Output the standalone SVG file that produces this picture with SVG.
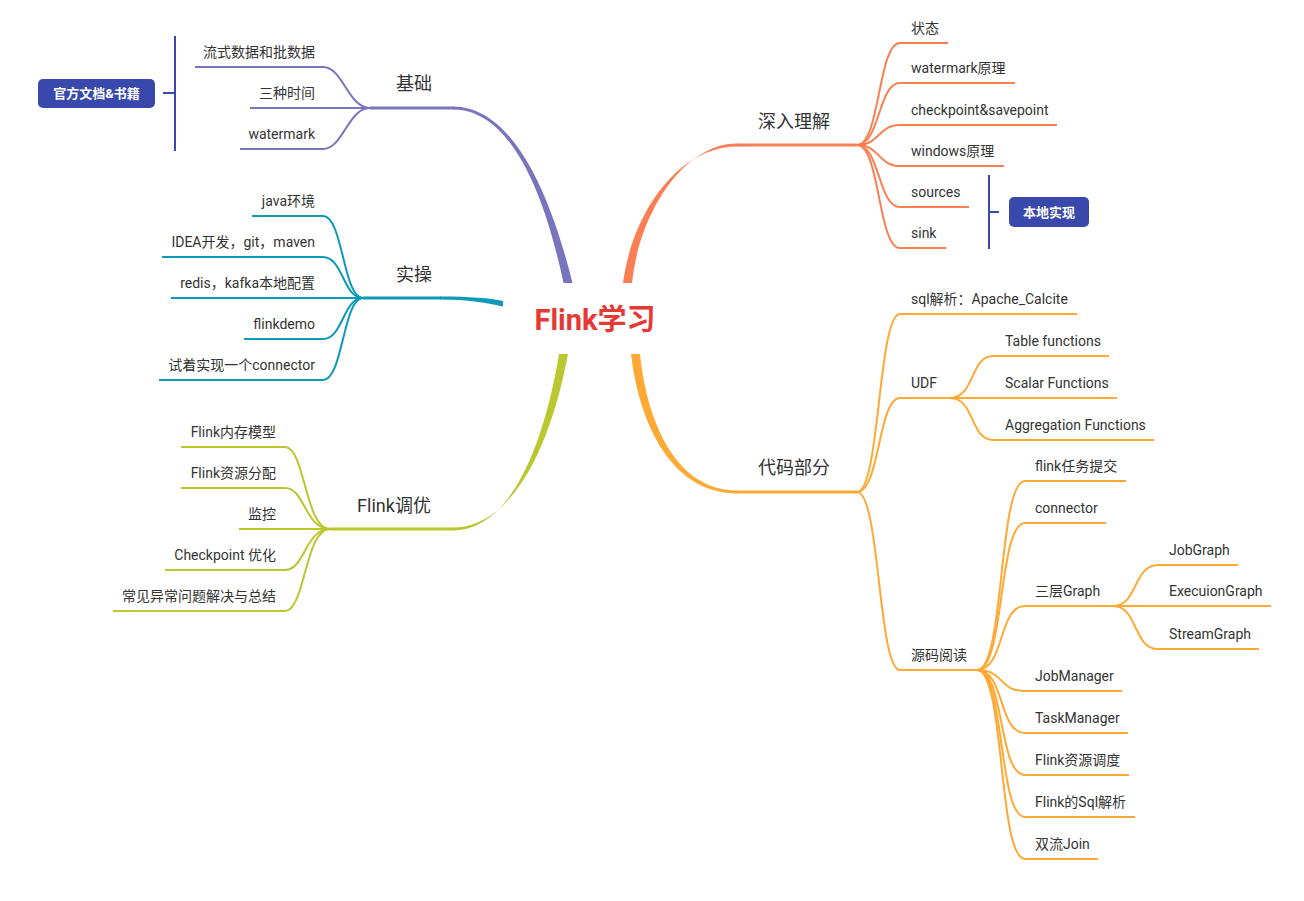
<svg xmlns="http://www.w3.org/2000/svg" width="1304" height="901" viewBox="0 0 1304 901">
<style>
text{font-family:Roboto,"Noto Sans CJK SC",sans-serif;fill:#333}
.c{font-size:14px}
.m{font-size:18px}
.r{text-anchor:end}
.mid{text-anchor:middle}
.ln{fill:none;stroke-width:2}
.mh{fill:none;stroke-width:3}
.pu{stroke:#7874bd}
.te{stroke:#0e99b9}
.yg{stroke:#bac72e}
.or{stroke:#fa7f53}
.am{stroke:#ffa935}
.tag{fill:#3949ab}
.tagt{font-size:13px;font-weight:bold;fill:#fff;text-anchor:middle}
.br{fill:none;stroke:#3949ab;stroke-width:2}
</style>
<rect width="1304" height="901" fill="#fff"/>
<g id="connectors">
  <!-- main tapered branches -->
  <path d="M453,106.5 C515,106.5 552,200 572.5,283 L563.5,283 C546,200 513,109.5 453,109.5 Z" fill="#7874bd"/>
  <path d="M737,143.5 C685,143.5 640,210 632,283 L623,283 C633,210 680,146.5 737,146.5 Z" fill="#fa7f53"/>
  <path d="M453,527.5 C515,527.5 552,440 568,354 L559,354 C545,440 512,530.5 453,530.5 Z" fill="#bac72e"/>
  <path d="M737,490.5 C680,490.5 648,430 640,354 L631,354 C640,430 675,493.5 737,493.5 Z" fill="#ffa935"/>
  <path d="M440,296.5 C470,296.5 490,298 503,301 L503,306.5 C488,303 468,299.5 440,299.5 Z" fill="#0e99b9"/>
  <!-- main horizontals -->
  <path class="mh pu" d="M370,108 L454,108"/>
  <path class="mh te" d="M363,298 L441,298"/>
  <path class="mh yg" d="M330,529 L454,529"/>
  <path class="mh or" d="M736,145 L857,145"/>
  <path class="mh am" d="M736,492 L857,492"/>
  <!-- 基础 children -->
  <path class="ln pu" d="M195,67 L323,67 C343,67 348,108 370,108"/>
  <path class="ln pu" d="M250,108 L370,108"/>
  <path class="ln pu" d="M240,149 L323,149 C343,149 348,108 370,108"/>
  <!-- 实操 children -->
  <path class="ln te" d="M252,216 L323,216 C343,216 343,298 363,298"/>
  <path class="ln te" d="M162,257 L323,257 C343,257 343,298 363,298"/>
  <path class="ln te" d="M171,298 L363,298"/>
  <path class="ln te" d="M244,339 L323,339 C343,339 343,298 363,298"/>
  <path class="ln te" d="M159,380 L323,380 C343,380 343,298 363,298"/>
  <!-- 调优 children -->
  <path class="ln yg" d="M181,447 L285,447 C305,447 305,529 330,529"/>
  <path class="ln yg" d="M181,488 L285,488 C305,488 305,529 330,529"/>
  <path class="ln yg" d="M239,529 L330,529"/>
  <path class="ln yg" d="M165,570 L285,570 C305,570 305,529 330,529"/>
  <path class="ln yg" d="M113,611 L285,611 C305,611 305,529 330,529"/>
  <!-- 深入理解 children -->
  <path class="ln or" d="M857,145 C880,145 878,43 900,43 L948,43"/>
  <path class="ln or" d="M857,145 C880,145 878,83 900,83 L1015,83"/>
  <path class="ln or" d="M857,145 C880,145 878,125 900,125 L1057,125"/>
  <path class="ln or" d="M857,145 C880,145 878,166 900,166 L1004,166"/>
  <path class="ln or" d="M857,145 C880,145 878,207 900,207 L969,207"/>
  <path class="ln or" d="M857,145 C880,145 878,248 900,248 L946,248"/>
  <!-- 代码部分 children -->
  <path class="ln am" d="M857,492 C880,492 878,314 900,314 L1077,314"/>
  <path class="ln am" d="M857,492 C880,492 878,398 900,398 L950,398"/>
  <path class="ln am" d="M857,492 C880,492 878,670 900,670 L977,670"/>
  <!-- UDF children -->
  <path class="ln am" d="M950,398 C975,398 970,356 993,356 L1109,356"/>
  <path class="ln am" d="M950,398 L1117,398"/>
  <path class="ln am" d="M950,398 C975,398 970,440 993,440 L1154,440"/>
  <!-- 源码阅读 children -->
  <path class="ln am" d="M977,670 C1005,670 998,481 1025,481 L1126,481"/>
  <path class="ln am" d="M977,670 C1005,670 998,523 1025,523 L1106,523"/>
  <path class="ln am" d="M977,670 C1005,670 998,606 1025,606 L1113,606"/>
  <path class="ln am" d="M977,670 C1005,670 998,691 1025,691 L1122,691"/>
  <path class="ln am" d="M977,670 C1005,670 998,733 1025,733 L1128,733"/>
  <path class="ln am" d="M977,670 C1005,670 998,775 1025,775 L1129,775"/>
  <path class="ln am" d="M977,670 C1005,670 998,817 1025,817 L1135,817"/>
  <path class="ln am" d="M977,670 C1005,670 998,859 1025,859 L1098,859"/>
  <!-- 三层Graph children -->
  <path class="ln am" d="M1113,606 C1138,606 1133,565 1158,565 L1238,565"/>
  <path class="ln am" d="M1113,606 L1271,606"/>
  <path class="ln am" d="M1113,606 C1138,606 1133,649 1158,649 L1259,649"/>
  <!-- brackets -->
  <path class="br" d="M175,36 L175,151 M163,93 L175,93"/>
  <path class="br" d="M989,175 L989,249 M989,212 L999,212"/>
</g>
<g id="root"><text x="595" y="330" font-size="29" font-weight="bold" text-anchor="middle" style="fill:#e53935">Flink学习</text></g>
<g id="jichu"><text class="m mid" x="414" y="90">基础</text></g>
<g id="jichu-1"><text class="c r" x="315" y="57">流式数据和批数据</text></g>
<g id="jichu-2"><text class="c r" x="315" y="98">三种时间</text></g>
<g id="jichu-3"><text class="c r" x="315" y="139">watermark</text></g>
<g id="guanfang"><rect class="tag" x="38" y="79" width="117" height="29" rx="5"/><text class="tagt" x="96.5" y="98">官方文档&amp;书籍</text></g>
<g id="shicao"><text class="m mid" x="414" y="281">实操</text></g>
<g id="shicao-1"><text class="c r" x="315" y="206">java环境</text></g>
<g id="shicao-2"><text class="c r" x="315" y="247">IDEA开发，git，maven</text></g>
<g id="shicao-3"><text class="c r" x="315" y="288">redis，kafka本地配置</text></g>
<g id="shicao-4"><text class="c r" x="315" y="329">flinkdemo</text></g>
<g id="shicao-5"><text class="c r" x="315" y="370">试着实现一个connector</text></g>
<g id="tiaoyou"><text class="m mid" x="394" y="512">Flink调优</text></g>
<g id="tiaoyou-1"><text class="c r" x="276" y="437">Flink内存模型</text></g>
<g id="tiaoyou-2"><text class="c r" x="276" y="478">Flink资源分配</text></g>
<g id="tiaoyou-3"><text class="c r" x="276" y="519">监控</text></g>
<g id="tiaoyou-4"><text class="c r" x="276" y="560">Checkpoint 优化</text></g>
<g id="tiaoyou-5"><text class="c r" x="276" y="601">常见异常问题解决与总结</text></g>
<g id="shenru"><text class="m" x="758" y="128">深入理解</text></g>
<g id="shenru-1"><text class="c" x="911" y="33">状态</text></g>
<g id="shenru-2"><text class="c" x="911" y="73">watermark原理</text></g>
<g id="shenru-3"><text class="c" x="911" y="115">checkpoint&amp;savepoint</text></g>
<g id="shenru-4"><text class="c" x="911" y="156">windows原理</text></g>
<g id="shenru-5"><text class="c" x="911" y="197">sources</text></g>
<g id="shenru-6"><text class="c" x="911" y="238">sink</text></g>
<g id="bendi"><rect class="tag" x="1009" y="197" width="80" height="30" rx="5"/><text class="tagt" x="1049" y="217">本地实现</text></g>
<g id="daima"><text class="m" x="758" y="474">代码部分</text></g>
<g id="daima-1"><text class="c" x="911" y="304">sql解析：Apache_Calcite</text></g>
<g id="udf"><text class="c" x="911" y="388">UDF</text></g>
<g id="udf-1"><text class="c" x="1005" y="346">Table functions</text></g>
<g id="udf-2"><text class="c" x="1005" y="388">Scalar Functions</text></g>
<g id="udf-3"><text class="c" x="1005" y="430">Aggregation Functions</text></g>
<g id="yuanma"><text class="c" x="911" y="660">源码阅读</text></g>
<g id="ym-1"><text class="c" x="1035" y="471">flink任务提交</text></g>
<g id="ym-2"><text class="c" x="1035" y="513">connector</text></g>
<g id="ym-3"><text class="c" x="1035" y="596">三层Graph</text></g>
<g id="g-1"><text class="c" x="1169" y="555">JobGraph</text></g>
<g id="g-2"><text class="c" x="1169" y="596">ExecuionGraph</text></g>
<g id="g-3"><text class="c" x="1169" y="639">StreamGraph</text></g>
<g id="ym-4"><text class="c" x="1035" y="681">JobManager</text></g>
<g id="ym-5"><text class="c" x="1035" y="723">TaskManager</text></g>
<g id="ym-6"><text class="c" x="1035" y="765">Flink资源调度</text></g>
<g id="ym-7"><text class="c" x="1035" y="807">Flink的Sql解析</text></g>
<g id="ym-8"><text class="c" x="1035" y="849">双流Join</text></g>
</svg>
